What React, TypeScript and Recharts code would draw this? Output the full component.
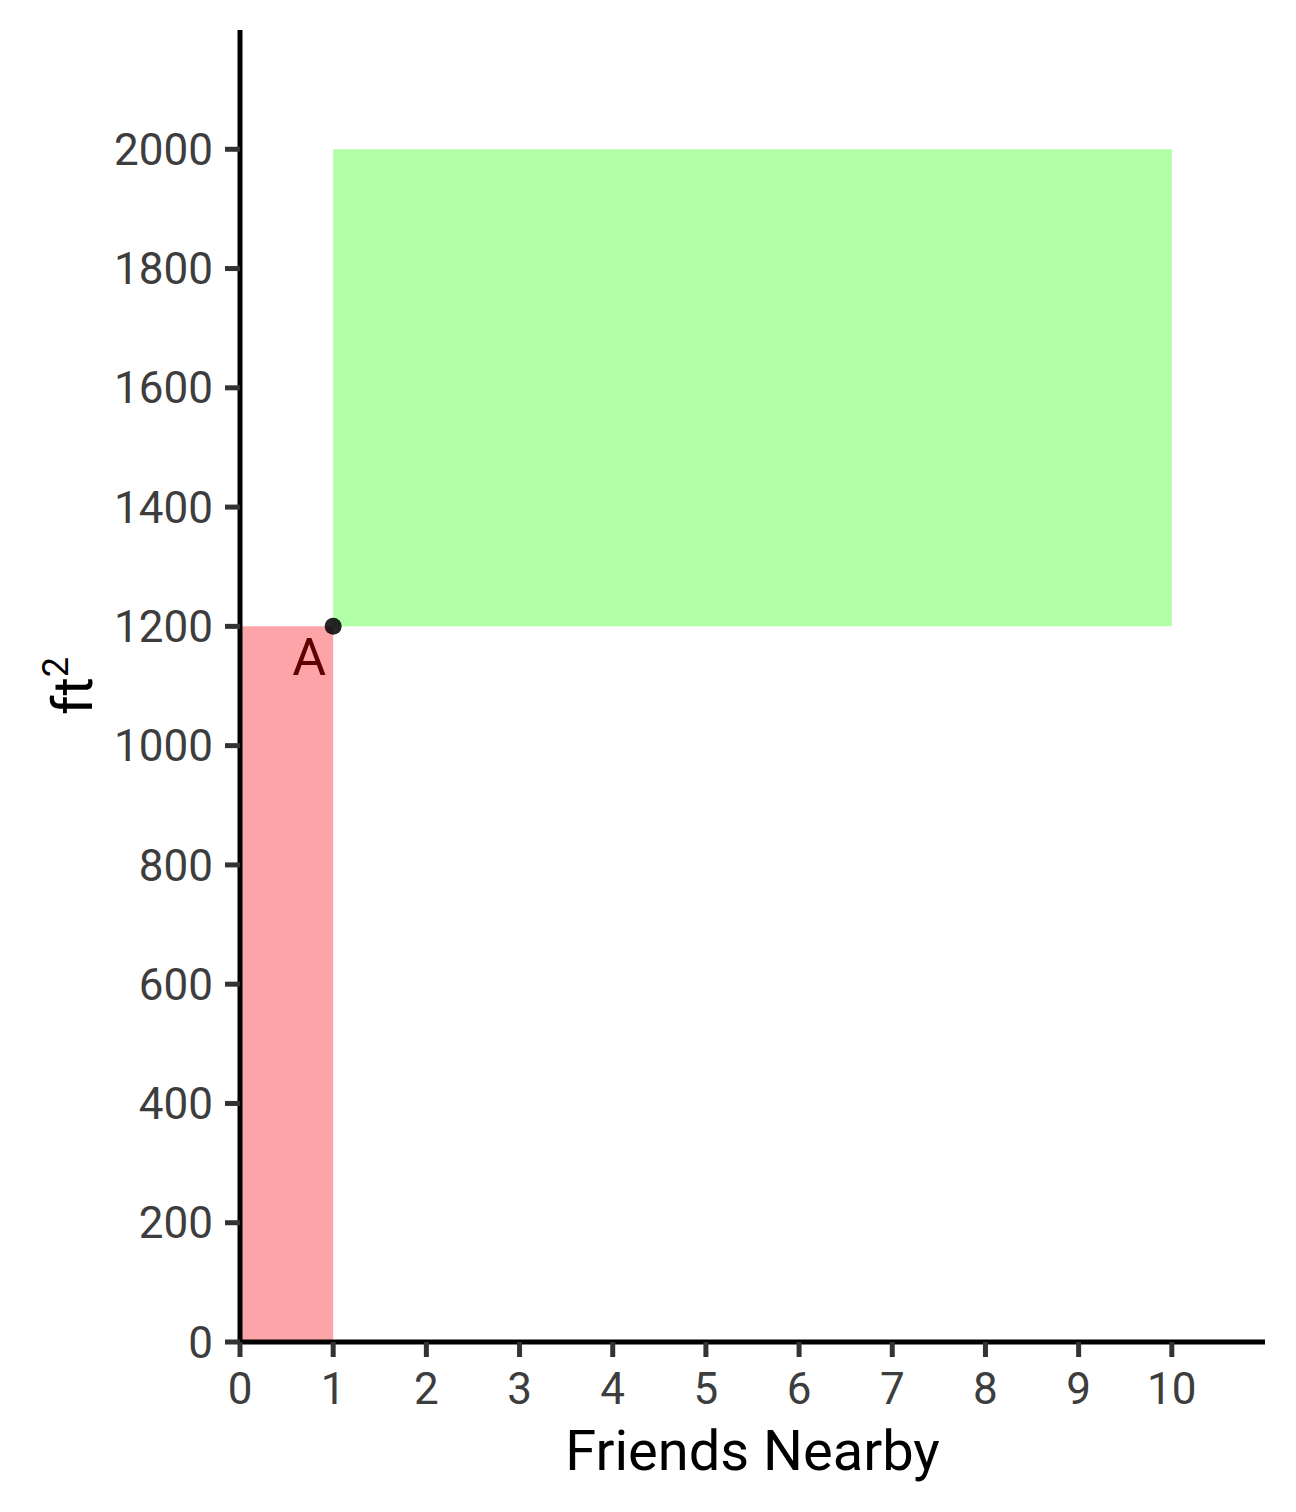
import { ComposedChart, Label, ReferenceArea, Scatter, XAxis, YAxis } from 'recharts';

const RED_FILL = '#fca4a7';
const GREEN_FILL = '#b1ffa6';
const LABEL_COLOR = '#5e0000';
const TICK_COLOR = '#3d3d3d';
const FONT = 'Roboto, "Noto Sans", sans-serif';

// x = friends nearby, y = square feet
const xTicks = [0, 1, 2, 3, 4, 5, 6, 7, 8, 9, 10];
const yTicks = [0, 200, 400, 600, 800, 1000, 1200, 1400, 1600, 1800, 2000];

// shaded regions: [x1, x2, y1, y2]
const redRegion = [0, 1, 0, 1200];
const greenRegion = [1, 10, 1200, 2000];

const pointX = [1];
const pointY = [1200];
const pointLabels = ['A'];

const points = pointX.map((x, i) => ({ x, y: pointY[i], label: pointLabels[i] }));

function PointShape(props: any) {
  const { cx, cy, payload } = props;
  return (
    <g>
      <circle cx={cx} cy={cy} r={8.5} fill="#000" fillOpacity={0.85} />
      <text
        x={cx - 7}
        y={cy + 49}
        textAnchor="end"
        fill={LABEL_COLOR}
        fontSize={52}
        fontFamily={FONT}
      >
        {payload.label}
      </text>
    </g>
  );
}

export default function App() {
  return (
    <div style={{ position: 'absolute', left: 0, top: 0, background: '#fff' }}>
      <ComposedChart
        width={1296}
        height={1512}
        data={points}
        margin={{ top: 30, right: 31, bottom: 0, left: 0 }}
      >
        <XAxis
          type="number"
          dataKey="x"
          domain={[0, 11]}
          ticks={xTicks}
          interval={0}
          height={170}
          tickSize={15}
          tickMargin={16}
          axisLine={{ stroke: '#000', strokeWidth: 5 }}
          tickLine={{ stroke: '#333', strokeWidth: 5 }}
          tick={{ fill: TICK_COLOR, fontSize: 44, fontFamily: FONT }}
        >
          <Label
            content={(p: any) => {
              const vb = p.viewBox;
              return (
                <text
                  x={vb.x + vb.width / 2}
                  y={vb.y + 128}
                  textAnchor="middle"
                  fill="#000"
                  fontSize={56}
                  fontFamily={FONT}
                >
                  Friends Nearby
                </text>
              );
            }}
          />
        </XAxis>
        <YAxis
          type="number"
          dataKey="y"
          domain={[0, 2200]}
          ticks={yTicks}
          interval={0}
          width={240}
          tickSize={15}
          tickMargin={12}
          axisLine={{ stroke: '#000', strokeWidth: 5 }}
          tickLine={{ stroke: '#333', strokeWidth: 5 }}
          tick={{ fill: TICK_COLOR, fontSize: 44, fontFamily: FONT }}
        >
          <Label
            content={(p: any) => {
              const vb = p.viewBox;
              const cy = vb.y + vb.height / 2;
              return (
                <text
                  transform={`translate(92, ${cy}) rotate(-90)`}
                  textAnchor="middle"
                  fill="#000"
                  fontSize={56}
                  fontFamily={FONT}
                >
                  ft
                  <tspan dy={-24} fontSize={36}>
                    2
                  </tspan>
                </text>
              );
            }}
          />
        </YAxis>
        <ReferenceArea
          x1={redRegion[0]}
          x2={redRegion[1]}
          y1={redRegion[2]}
          y2={redRegion[3]}
          fill={RED_FILL}
          fillOpacity={1}
          stroke="none"
        />
        <ReferenceArea
          x1={greenRegion[0]}
          x2={greenRegion[1]}
          y1={greenRegion[2]}
          y2={greenRegion[3]}
          fill={GREEN_FILL}
          fillOpacity={1}
          stroke="none"
        />
        <Scatter data={points} dataKey="y" shape={PointShape} isAnimationActive={false} />
      </ComposedChart>
    </div>
  );
}
